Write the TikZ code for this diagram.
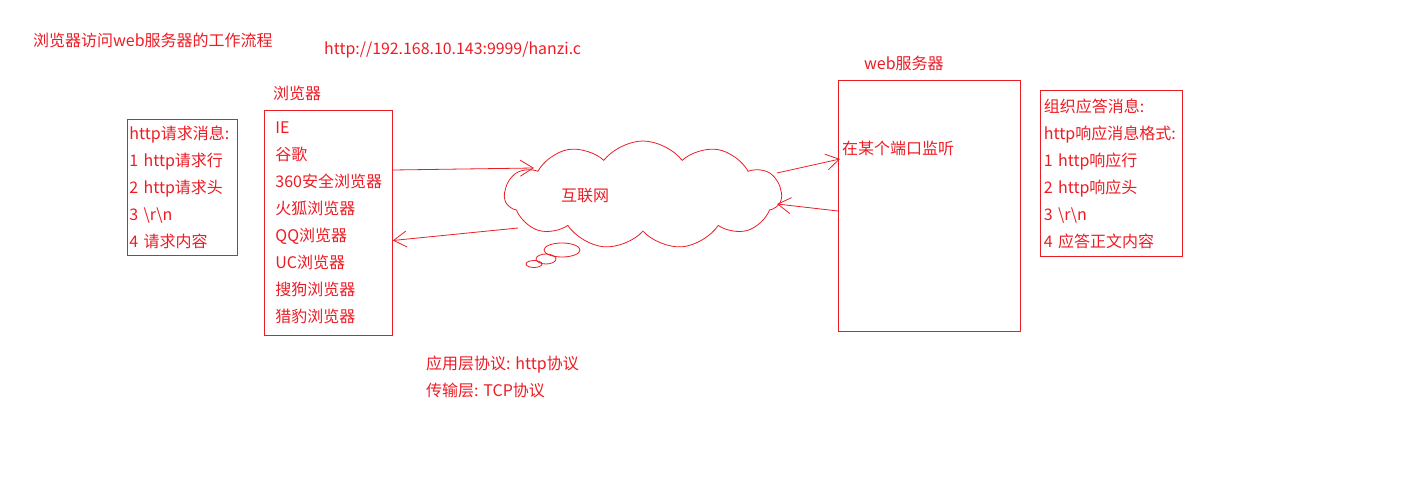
\documentclass[tikz,border=0pt]{standalone}
\usepackage{fontspec}
\setmainfont{Noto Sans CJK SC}
\usetikzlibrary{shapes.symbols,arrows.meta,calc}
\definecolor{inkred}{RGB}{237,28,36}

\begin{document}
\begin{tikzpicture}[x=1pt,y=-1pt,
    every node/.style={text=inkred,inner sep=0pt,font=\fontsize{16}{27}\selectfont},
    msgbox/.style={draw=inkred,anchor=north west,align=left,line width=0.8pt},
    flow/.style={draw=inkred,line width=0.8pt,-{Straight Barb[length=13pt,width=16pt]}}]

      \useasboundingbox (0,0) rectangle (1408,484);

      % draw titles
      \node[anchor=west,font=\fontsize{16}{18}\selectfont] (title) at (33,40) {浏览器访问web服务器的工作流程};
      \node[anchor=west,font=\fontsize{15.9}{18}\selectfont] (url) at (324,50) {http://192.168.10.143:9999/hanzi.c};

      % draw request message
      \node[msgbox,inner xsep=2.5pt,text width=105pt,minimum height=136pt] (request) at (126.5,119)
        {http请求消息:\\1 http请求行\\2 http请求头\\3 \textbackslash r\textbackslash n\\4 请求内容};

      % draw browser
      \node[anchor=west] (browsertitle) at (273,93) {浏览器};
      \node[msgbox,inner xsep=11pt,text width=106pt,minimum height=224pt] (browser) at (264,110.5)
        {IE\\谷歌\\360安全浏览器\\火狐浏览器\\QQ浏览器\\UC浏览器\\搜狗浏览器\\猎豹浏览器};

      % draw internet cloud
      \node[cloud,draw=inkred,line width=0.8pt,cloud puffs=11,cloud puff arc=105,aspect=2.6,
            minimum width=277pt,minimum height=108pt,
            label={[xshift=-58pt,yshift=-1pt]center:互联网}] (net) at (643,195) {};
      \draw[inkred,line width=0.8pt] (562,250) ellipse [x radius=18pt,y radius=7pt];
      \draw[inkred,line width=0.8pt] (546,259) ellipse [x radius=10pt,y radius=5pt];
      \draw[inkred,line width=0.8pt] (534,264) ellipse [x radius=8pt,y radius=3.5pt];

      % draw web server
      \node[anchor=west] (servertitle) at (864,63) {web服务器};
      \node[msgbox,minimum width=182pt,minimum height=251pt] (server) at (838,80) {};
      \node[anchor=west] (listen) at (842,148) {在某个端口监听};

      % draw response message
      \node[msgbox,inner xsep=3.5pt,text width=135pt,minimum height=165pt] (response) at (1040,90.5)
        {组织应答消息:\\http响应消息格式:\\1 http响应行\\2 http响应头\\3 \textbackslash r\textbackslash n\\4 应答正文内容};

      % draw protocol notes
      \node[anchor=west,align=left] (proto) at (426,377) {应用层协议: http协议\\传输层: TCP协议};

      % draw arrows
      \draw[flow] ($(browser.north east)+(0,59.5)$) -- ($(net.center)+(-109,-27)$);
      \draw[flow] ($(net.center)+(-125,33)$) -- ($(browser.north east)+(0,130)$);
      \draw[flow] ($(net.center)+(134,-22)$) -- ($(server.north west)+(2,79)$);
      \draw[flow] ($(server.north west)+(0,131)$) -- ($(net.center)+(134,9)$);

\end{tikzpicture}
\end{document}
